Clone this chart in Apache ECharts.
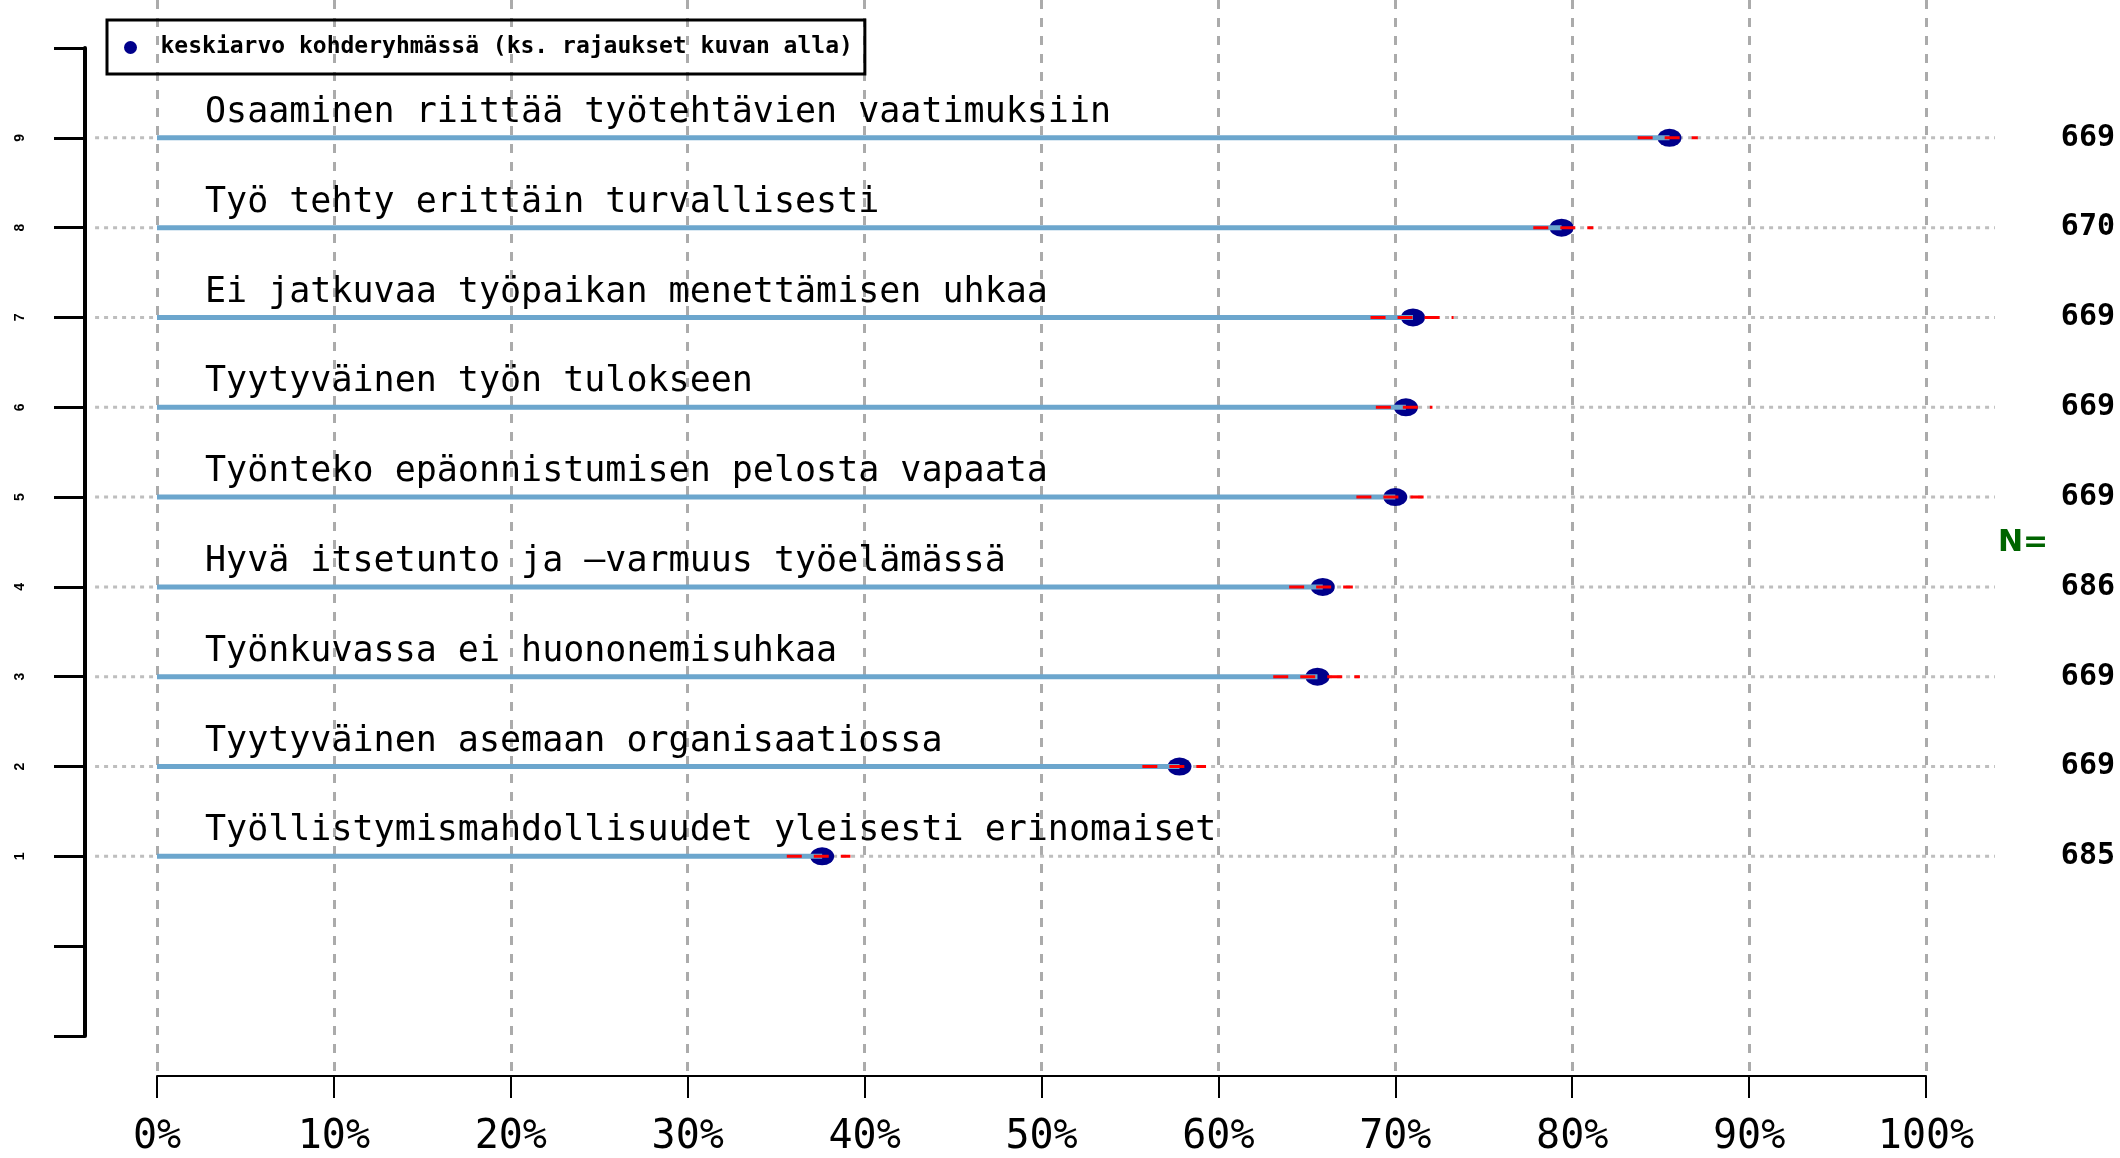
<!DOCTYPE html>
<html>
<head>
<meta charset="utf-8">
<script src="https://cdn.jsdelivr.net/npm/echarts@6/dist/echarts.min.js"></script>
<style>
  html, body { margin: 0; padding: 0; background: #fff; }
  #chart { width: 2120px; height: 1158px; }
</style>
</head>
<body>
<div id="chart"></div>
<script>
// rows, top to bottom
const labels = [
  "Osaaminen riittää työtehtävien vaatimuksiin",
  "Työ tehty erittäin turvallisesti",
  "Ei jatkuvaa työpaikan menettämisen uhkaa",
  "Tyytyväinen työn tulokseen",
  "Työnteko epäonnistumisen pelosta vapaata",
  "Hyvä itsetunto ja –varmuus työelämässä",
  "Työnkuvassa ei huononemisuhkaa",
  "Tyytyväinen asemaan organisaatiossa",
  "Työllistymismahdollisuudet yleisesti erinomaiset"
];
const means = [85.5, 79.4, 71.0, 70.6, 70.0, 65.9, 65.6, 57.8, 37.6];
const lower = [83.7, 77.8, 68.6, 68.9, 67.8, 64.0, 63.1, 55.7, 35.6];
const upper = [87.1, 81.2, 73.3, 72.1, 71.6, 67.6, 68.0, 59.3, 39.2];
const counts = [669, 670, 669, 669, 669, 686, 669, 669, 685];
const rowPos = [10, 9, 8, 7, 6, 5, 4, 3, 2];
const sideTicks = ["", "", "1", "2", "3", "4", "5", "6", "7", "8", "9", ""];
const legendName = "keskiarvo kohderyhmässä (ks. rajaukset kuvan alla)";

const chart = echarts.init(document.getElementById("chart"));

const mono = '"DejaVu Sans Mono", monospace';

const option = {
  animation: false,
  backgroundColor: "#fff",
  legend: {
    data: [legendName],
    left: 107,
    top: 20,
    padding: [16, 12, 15, 17],
    borderColor: "#000",
    borderWidth: 3,
    itemWidth: 18,
    itemHeight: 13,
    icon: "circle",
    textStyle: { fontFamily: mono, fontSize: 23, fontWeight: "bold", color: "#000", padding: [0, 0, 0, 16] }
  },
  grid: [
    { left: 157, right: 194, top: 0, bottom: 82 },
    { left: 157, right: 194, top: 48, bottom: 122 }
  ],
  xAxis: [
    {
      gridIndex: 0, type: "value", min: 0, max: 100, interval: 10,
      axisLine: { lineStyle: { color: "#000", width: 2 } },
      axisTick: { length: 22, lineStyle: { color: "#000", width: 2 } },
      axisLabel: { formatter: "{value}%", color: "#000", fontFamily: mono, fontSize: 40, margin: 42 },
      splitLine: { show: true, lineStyle: { color: "#ababab", width: 3, type: [9, 9] } }
    },
    { gridIndex: 1, type: "value", min: 0, max: 100, show: false }
  ],
  yAxis: [
    { gridIndex: 0, type: "value", min: 0, max: 1, show: false },
    {
      gridIndex: 1, type: "value", min: 0, max: 11, interval: 1,
      position: "left", offset: 72,
      axisLine: { show: true, onZero: false, lineStyle: { color: "#000", width: 4 } },
      axisTick: { show: true, length: 31, lineStyle: { color: "#000", width: 3 } },
      axisLabel: {
        formatter: v => sideTicks[v] || "",
        rotate: 90, fontSize: 14, fontWeight: "bold", color: "#000", margin: 58
      },
      splitLine: { show: false }
    }
  ],
  series: [
    {
      type: "custom", name: "guides", xAxisIndex: 1, yAxisIndex: 1, z: 1,
      data: rowPos.map(p => [0, p]),
      renderItem: (params, api) => {
        const y = api.value(1);
        const a = api.coord([-3.5, y]);
        const b = api.coord([103.9, y]);
        return {
          type: "line",
          shape: { x1: a[0], y1: a[1], x2: b[0], y2: b[1] },
          style: { stroke: "#bebebe", lineWidth: 3, lineDash: [4, 5] }
        };
      }
    },
    {
      type: "scatter", name: legendName, xAxisIndex: 1, yAxisIndex: 1, z: 2,
      data: means.map((m, i) => [m, rowPos[i]]),
      symbol: "circle", symbolSize: [24, 18],
      itemStyle: { color: "#00008b", opacity: 1 }
    },
    {
      type: "custom", name: "bars", xAxisIndex: 1, yAxisIndex: 1, z: 3,
      data: means.map((m, i) => [m, rowPos[i]]),
      renderItem: (params, api) => {
        const a = api.coord([0, api.value(1)]);
        const b = api.coord([api.value(0), api.value(1)]);
        return {
          type: "line",
          shape: { x1: a[0], y1: a[1], x2: b[0], y2: b[1] },
          style: { stroke: "#6ca6cd", lineWidth: 5 }
        };
      }
    },
    {
      type: "custom", name: "errors", xAxisIndex: 1, yAxisIndex: 1, z: 4,
      data: lower.map((lo, i) => [lo, rowPos[i], upper[i]]),
      renderItem: (params, api) => {
        const a = api.coord([api.value(0), api.value(1)]);
        const b = api.coord([api.value(2), api.value(1)]);
        return {
          type: "line",
          shape: { x1: a[0], y1: a[1], x2: b[0], y2: b[1] },
          style: { stroke: "#ff0000", lineWidth: 3, lineDash: [15, 12] }
        };
      }
    },
    {
      type: "custom", name: "names", xAxisIndex: 1, yAxisIndex: 1, z: 5,
      data: rowPos.map((p, i) => [0, p, i]),
      renderItem: (params, api) => {
        const pt = api.coord([0, api.value(1)]);
        return {
          type: "text",
          x: pt[0] + 48,
          y: pt[1] - 25,
          style: {
            text: labels[api.value(2)],
            fill: "#000",
            fontFamily: mono,
            fontSize: 35,
            align: "left",
            verticalAlign: "middle"
          }
        };
      }
    },
    {
      type: "custom", name: "counts", xAxisIndex: 1, yAxisIndex: 1, z: 5,
      data: rowPos.map((p, i) => [0, p, counts[i]]),
      renderItem: (params, api) => {
        const pt = api.coord([0, api.value(1)]);
        return {
          type: "text",
          x: 2115,
          y: pt[1],
          style: {
            text: String(api.value(2)),
            fill: "#000",
            fontFamily: mono,
            fontWeight: "bold",
            fontSize: 30,
            align: "right",
            verticalAlign: "middle"
          }
        };
      }
    }
  ],
  graphic: [
    {
      type: "text", left: 1998, top: 528,
      style: { text: "N=", fill: "#006400", fontFamily: '"DejaVu Sans"', fontWeight: "bold", fontSize: 30 }
    }
  ]
};

chart.setOption(option);
</script>
</body>
</html>
